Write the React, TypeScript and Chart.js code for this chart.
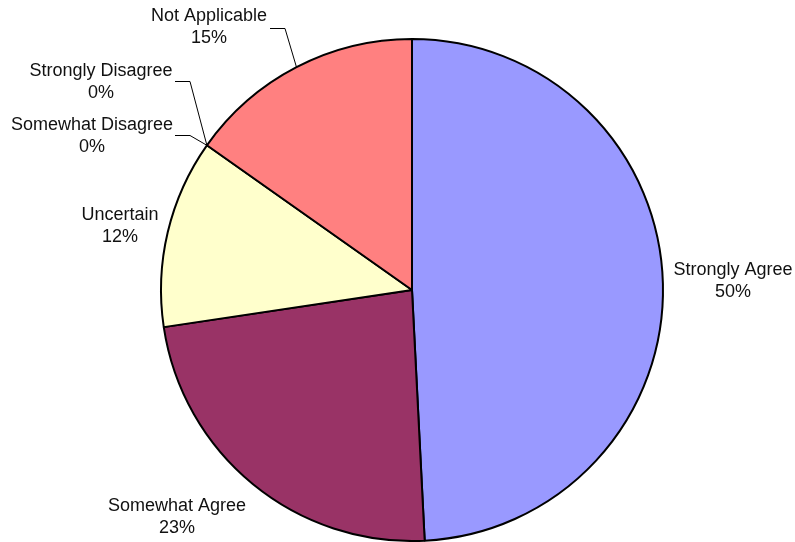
import React, { useEffect, useRef } from "react";
import { Chart, registerables } from "chart.js";

Chart.register(...registerables);

const categories = [
  "Strongly Agree",
  "Somewhat Agree",
  "Uncertain",
  "Somewhat Disagree",
  "Strongly Disagree",
  "Not Applicable",
];
const shares = [49.19, 23.44, 12.14, 0, 0, 15.22];
const percentLabels = ["50%", "23%", "12%", "0%", "0%", "15%"];
const sliceColors = ["#9999FF", "#993366", "#FFFFCC", "#FFFFFF", "#FFFFFF", "#FF8080"];

// label layout: text center (x, y of first line) and optional leader elbow
const labelLayout = [
  { x: 733, y: 270 },
  { x: 177, y: 506 },
  { x: 120, y: 215 },
  { x: 92, y: 125, leader: [[175, 135], [190, 135]] },
  { x: 101, y: 71, leader: [[175, 81], [190, 81]] },
  { x: 209, y: 16, leader: [[270, 28], [285, 28]] },
];

const labelPlugin = {
  id: "outsideLabels",
  afterDraw(chart: any) {
    const ctx = chart.ctx;
    const meta = chart.getDatasetMeta(0);
    ctx.save();
    ctx.font = '18px "Liberation Sans", Arial, sans-serif';
    ctx.fillStyle = "#111";
    ctx.textAlign = "center";
    ctx.textBaseline = "middle";
    meta.data.forEach((arc: any, i: number) => {
      const lay = labelLayout[i];
      if (!lay) return;
      ctx.fillText(categories[i], lay.x, lay.y);
      ctx.fillText(percentLabels[i], lay.x, lay.y + 22);
      if (lay.leader) {
        const p = arc.getProps(["x", "y", "startAngle", "endAngle", "outerRadius"], true);
        const mid = (p.startAngle + p.endAngle) / 2;
        const ex = p.x + Math.cos(mid) * p.outerRadius;
        const ey = p.y + Math.sin(mid) * p.outerRadius;
        ctx.beginPath();
        ctx.strokeStyle = "#000";
        ctx.lineWidth = 1;
        ctx.moveTo(lay.leader[0][0], lay.leader[0][1] + 0.5);
        ctx.lineTo(lay.leader[1][0], lay.leader[1][1] + 0.5);
        ctx.lineTo(ex, ey);
        ctx.stroke();
      }
    });
    ctx.restore();
  },
};

export default function App() {
  const ref = useRef<HTMLCanvasElement | null>(null);
  useEffect(() => {
    document.body.style.margin = "0";
    const canvas = ref.current;
    if (!canvas) return;
    const chart = new Chart(canvas, {
      type: "pie",
      data: {
        labels: categories,
        datasets: [
          {
            data: shares,
            backgroundColor: sliceColors,
            borderColor: "#000000",
            borderWidth: 2,
          },
        ],
      },
      options: {
        responsive: false,
        animation: false,
        radius: 251,
        layout: { padding: { left: 29, right: 0, top: 38, bottom: 0 } },
        plugins: {
          legend: { display: false },
          tooltip: { enabled: false },
        },
      } as any,
      plugins: [labelPlugin],
    });
    return () => chart.destroy();
  }, []);
  return (
    <div style={{ width: 795, height: 542, background: "#fff" }}>
      <canvas ref={ref} width={795} height={542} style={{ display: "block" }} />
    </div>
  );
}
